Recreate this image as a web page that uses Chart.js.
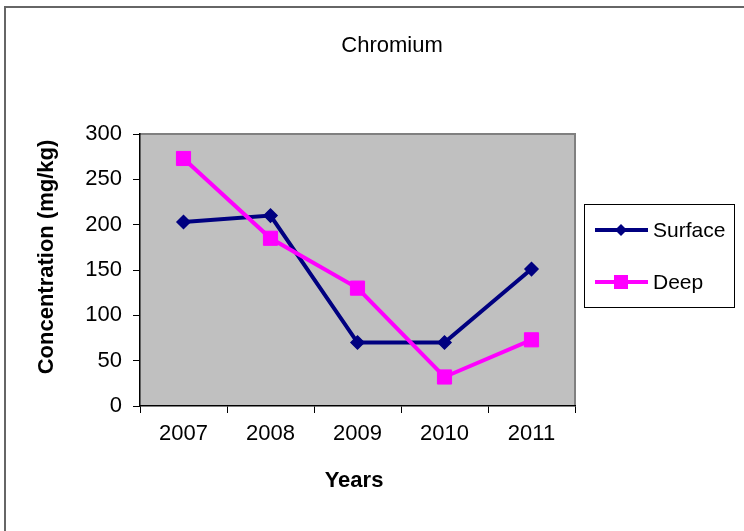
<!DOCTYPE html>
<html>
<head>
<meta charset="utf-8">
<script src="https://cdn.jsdelivr.net/npm/chart.js@4/dist/chart.umd.min.js"></script>
<style>
  html, body { margin: 0; padding: 0; background: #fff; }
  #wrap { position: relative; width: 744px; height: 531px; overflow: hidden; }
  #frame { position: absolute; left: 4px; top: 6px; width: 800px; height: 600px; border-left: 2px solid #666; border-top: 2px solid #666; box-sizing: border-box; pointer-events: none; }
  canvas { position: absolute; left: 0; top: 0; }
</style>
</head>
<body>
<div id="wrap">
  <div id="frame"></div>
  <canvas id="c" width="744" height="531"></canvas>
</div>
<script>
const chartTitle = "Chromium";
const xTitle = "Years";
const yTitle = "Concentration (mg/kg)";
const years = ["2007", "2008", "2009", "2010", "2011"];
const surface = [203, 210, 70, 70, 151];
const deep = [273, 185, 130, 32, 73];
const yTicks = [0, 50, 100, 150, 200, 250, 300];

const FONT = "'Liberation Sans', Arial, sans-serif";

const decor = {
  id: 'decor',
  beforeDraw(chart) {
    const {ctx, chartArea: a} = chart;
    ctx.save();
    ctx.fillStyle = '#C0C0C0';
    ctx.fillRect(a.left, a.top, a.right - a.left, a.bottom - a.top);
    ctx.strokeStyle = '#808080';
    ctx.lineWidth = 2;
    ctx.beginPath();
    ctx.moveTo(a.left, a.top);
    ctx.lineTo(a.right, a.top);
    ctx.lineTo(a.right, a.bottom);
    ctx.stroke();
    ctx.restore();
  },
  afterDraw(chart) {
    const {ctx} = chart;
    ctx.save();
    ctx.fillStyle = '#000';
    ctx.textAlign = 'center';
    ctx.textBaseline = 'middle';
    ctx.font = "22px " + FONT;
    ctx.fillText(chartTitle, 392, 46);
    ctx.font = "bold 22px " + FONT;
    ctx.fillText(xTitle, 354, 481);
    ctx.save();
    ctx.translate(47, 257);
    ctx.rotate(-Math.PI / 2);
    ctx.fillText(yTitle, 0, 0);
    ctx.restore();
    // legend
    const lx = 584, ly = 204, lw = 150, lh = 103;
    ctx.fillStyle = '#fff';
    ctx.fillRect(lx, ly, lw, lh);
    ctx.strokeStyle = '#000';
    ctx.lineWidth = 1;
    ctx.strokeRect(lx + 0.5, ly + 0.5, lw, lh);
    const rows = [230, 282];
    chart.data.datasets.forEach((ds, i) => {
      const y = rows[i];
      ctx.strokeStyle = ds.borderColor;
      ctx.lineWidth = 4;
      ctx.beginPath();
      ctx.moveTo(595, y);
      ctx.lineTo(648, y);
      ctx.stroke();
      ctx.fillStyle = ds.borderColor;
      if (ds.pointStyle === 'rect') {
        ctx.fillRect(621 - 7, y - 7, 14, 14);
      } else {
        ctx.beginPath();
        ctx.moveTo(621, y - 6);
        ctx.lineTo(627, y);
        ctx.lineTo(621, y + 6);
        ctx.lineTo(615, y);
        ctx.closePath();
        ctx.fill();
      }
      ctx.fillStyle = '#000';
      ctx.textAlign = 'left';
      ctx.font = "21px " + FONT;
      ctx.fillText(ds.label, 653, y + 1);
    });
    ctx.restore();
  }
};

new Chart(document.getElementById('c'), {
  type: 'line',
  data: {
    labels: years,
    datasets: [
      {
        label: 'Surface', data: surface, order: 1,
        borderColor: '#000080', backgroundColor: '#000080',
        borderWidth: 4, pointStyle: 'rectRot', pointRadius: 6.5,
        pointBorderWidth: 1.5, pointHoverRadius: 6.5, tension: 0
      },
      {
        label: 'Deep', data: deep, order: 0,
        borderColor: '#FF00FF', backgroundColor: '#FF00FF',
        borderWidth: 4, pointStyle: 'rect', pointRadius: 10,
        pointBorderWidth: 1, pointHoverRadius: 10, tension: 0
      }
    ]
  },
  options: {
    responsive: false,
    animation: false,
    events: [],
    layout: { padding: { left: 0, top: 134, right: 169, bottom: 0 } },
    plugins: { legend: { display: false }, title: { display: false }, tooltip: { enabled: false } },
    scales: {
      x: {
        type: 'category',
        offset: true,
        afterFit(s) { s.height = 125; },
        grid: { offset: true, drawOnChartArea: false, drawTicks: true, tickLength: 7, color: '#000', lineWidth: 1 },
        border: { display: true, color: '#000', width: 1.5 },
        ticks: { color: '#000', font: { family: FONT, size: 22 }, padding: 8, maxRotation: 0, autoSkip: false }
      },
      y: {
        min: 0, max: 300,
        afterFit(s) { s.width = 140; },
        afterBuildTicks(s) { s.ticks = yTicks.map(v => ({ value: v })); },
        grid: { drawOnChartArea: false, drawTicks: true, tickLength: 7, color: '#000', lineWidth: 1 },
        border: { display: true, color: '#000', width: 1.5 },
        ticks: { color: '#000', font: { family: FONT, size: 22 }, padding: 11 }
      }
    }
  },
  plugins: [decor]
});
</script>
</body>
</html>
